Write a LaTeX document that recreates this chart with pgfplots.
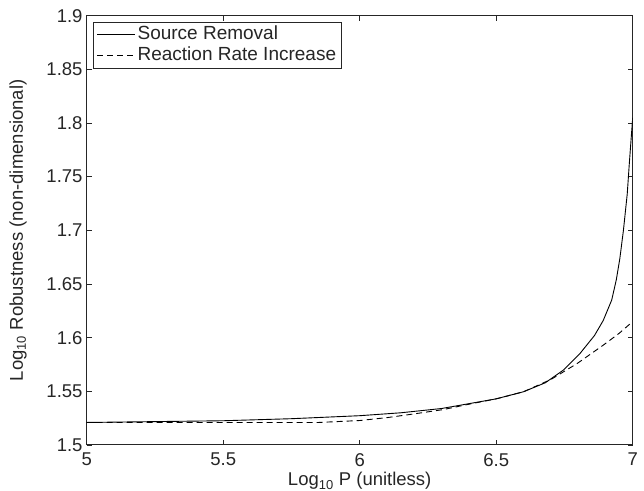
\documentclass[border=0pt]{standalone}
\usepackage{fontspec}
\setmainfont{Liberation Sans}
\usepackage{pgfplots}
\pgfplotsset{compat=1.18}
\pgfplotsset{mylegend/.style={legend image code/.code={\draw[##1] (0pt,0pt) -- (38pt,0pt);}}}
\begin{document}
\begin{tikzpicture}
\begin{axis}[
  scale only axis,
  width=546pt, height=429.3pt,
  xmin=5, xmax=7, ymin=1.5, ymax=1.9,
  xtick={5,5.5,6,6.5,7},
  ytick={1.5,1.55,1.6,1.65,1.7,1.75,1.8,1.85,1.9},
  xtick pos=both, ytick pos=both,
  tick align=inside,
  major tick length=5pt,
  axis line style={line width=1pt, black!85},
  tick style={line width=0.8pt, black!85},
  /pgf/number format/assume math mode=true,
  ticklabel style={font=\fontsize{18.5}{21}\selectfont, text=black!85},
  xticklabel style={inner sep=2pt, yshift=-6pt},
  yticklabel style={inner sep=2pt, xshift=-2pt},
  xlabel={Log\textsubscript{10} P (unitless)},
  ylabel={Log\textsubscript{10} Robustness (non-dimensional)},
  label style={font=\fontsize{18.5}{21}\selectfont, text=black!85},
  xlabel style={at={(rel axis cs:0.5,0)}, anchor=base, yshift=-41pt},
  ylabel style={at={(rel axis cs:-0.1258,0.5)}, anchor=center},
  legend style={at={(0,1)}, anchor=north west, xshift=6.6pt, yshift=-6pt,
    font=\fontsize{19}{22}\selectfont, draw=black!85, line width=0.8pt,
    inner xsep=3pt, inner ysep=1.5pt, row sep=0pt, text=black!85,
    nodes={text height=13.5pt, text depth=4pt, inner ysep=2pt, inner xsep=2pt}},
  legend cell align=left,
]
\addplot[black, line width=0.9pt, mylegend] coordinates {
(5.0,1.521) (5.25,1.5218) (5.5,1.5226) (5.75,1.5245) (6.0,1.5273) (6.15,1.530)
(6.3,1.534) (6.44,1.5403) (6.5,1.543) (6.6,1.5496) (6.68,1.558) (6.746,1.5698)
(6.807,1.5853) (6.86,1.602) (6.892,1.616) (6.923,1.635) (6.94,1.654)
(6.953,1.674) (6.966,1.700) (6.980,1.734) (6.9875,1.762) (6.995,1.788) (7.0,1.805)
};
\addlegendentry{Source Removal}
\addplot[black, line width=0.9pt, dash pattern=on 6pt off 4pt, mylegend] coordinates {
(5.0,1.521) (5.5,1.521) (5.85,1.521) (6.0,1.5228) (6.1,1.5255) (6.2,1.529)
(6.306,1.533) (6.4,1.538) (6.5,1.543) (6.6,1.5496) (6.7,1.561) (6.797,1.576)
(6.892,1.593) (6.95,1.604) (7.0,1.615)
};
\addlegendentry{Reaction Rate Increase}
\coordinate (SW) at (rel axis cs:0,0);
\coordinate (NE) at (rel axis cs:1,1);
\end{axis}
\pgfresetboundingbox
\path ([shift={(-86.7pt,-46pt)}]SW) rectangle ([shift={(11.3pt,15.7pt)}]NE);
\end{tikzpicture}
\end{document}
